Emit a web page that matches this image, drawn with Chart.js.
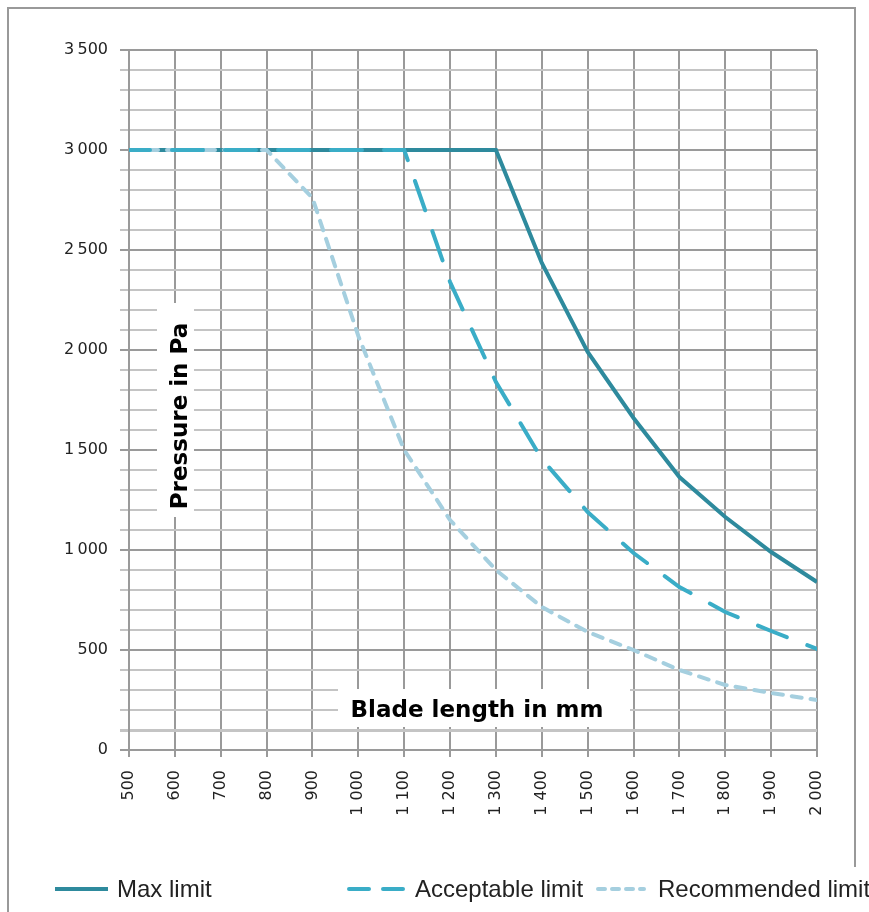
<!DOCTYPE html>
<html>
<head>
<meta charset="utf-8">
<script src="https://cdn.jsdelivr.net/npm/chart.js@4.4.0/dist/chart.umd.min.js"></script>
<style>
  body { margin: 0; background: #fff; }
  canvas { display: block; }
</style>
</head>
<body>
<canvas id="chart" width="869" height="912"></canvas>
<script>
// blade length in mm, one point every 100 mm
const bladeLength = [500, 600, 700, 800, 900, 1000, 1100, 1200, 1300, 1400, 1500, 1600, 1700, 1800, 1900, 2000];
// pressure in Pa
const maxLimit = [3000, 3000, 3000, 3000, 3000, 3000, 3000, 3000, 3000, 2435, 1990, 1660, 1365, 1165, 990, 840];
const acceptableLimit = [3000, 3000, 3000, 3000, 3000, 3000, 3000, 2340, 1840, 1455, 1190, 985, 815, 690, 595, 505];
const recommendedLimit = [3000, 3000, 3000, 3000, 2760, 2070, 1500, 1150, 900, 715, 590, 500, 400, 325, 285, 250];
const seriesNames = ['Max limit', 'Acceptable limit', 'Recommended limit'];
const xTitle = 'Blade length in mm';
const yTitle = 'Pressure in Pa';

function toPoints(values) {
  return bladeLength.map((x, i) => ({ x: x, y: values[i] }));
}

function fmtX(v) {
  return v >= 1000 ? Math.floor(v / 1000) + ' ' + String(v % 1000).padStart(3, '0') : String(v);
}

function fmtY(v) {
  if (v % 500 !== 0) return '';
  return v >= 1000 ? Math.floor(v / 1000) + '\u2009' + String(v % 1000).padStart(3, '0') : String(v);
}

const decorations = {
  id: 'decorations',
  beforeDatasetsDraw(chart) {
    const ctx = chart.ctx;
    ctx.save();
    ctx.fillStyle = '#fff';
    ctx.fillRect(338, 689, 292, 38);
    ctx.fillRect(157, 303, 37, 214);
    ctx.fillStyle = '#000';
    ctx.font = 'bold 23px "DejaVu Sans"';
    ctx.textAlign = 'center';
    ctx.textBaseline = 'alphabetic';
    ctx.fillText(xTitle, 477, 717);
    ctx.translate(187, 416);
    ctx.rotate(-Math.PI / 2);
    ctx.fillText(yTitle, 0, 0);
    ctx.restore();
  },
  afterDraw(chart) {
    const ctx = chart.ctx;
    ctx.save();
    // outer frame
    ctx.strokeStyle = '#999';
    ctx.lineWidth = 2;
    ctx.beginPath();
    ctx.moveTo(8, 912);
    ctx.lineTo(8, 8);
    ctx.lineTo(855, 8);
    ctx.lineTo(855, 867);
    ctx.stroke();

    // legend
    const slots = [
      { x0: 55, x1: 108, tx: 117, dash: [] },
      { x0: 349, x1: 403, tx: 415, dash: [20, 14] },
      { x0: 598, x1: 644, tx: 658, dash: [7, 7] }
    ];
    const ly = 889;
    chart.data.datasets.forEach((ds, i) => {
      const s = slots[i];
      ctx.strokeStyle = ds.borderColor;
      ctx.lineWidth = ds.borderWidth;
      ctx.lineCap = i === 0 ? 'butt' : 'round';
      ctx.setLineDash(s.dash);
      ctx.beginPath();
      ctx.moveTo(s.x0, ly);
      ctx.lineTo(s.x1, ly);
      ctx.stroke();
      ctx.setLineDash([]);
      ctx.fillStyle = '#222';
      ctx.font = '24px "Liberation Sans"';
      ctx.textAlign = 'left';
      ctx.textBaseline = 'alphabetic';
      ctx.fillText(ds.label, s.tx, 897);
    });
    ctx.restore();
  }
};

const ctx = document.getElementById('chart').getContext('2d');
const chart = new Chart(ctx, {
  type: 'line',
  data: {
    datasets: [
      {
        label: seriesNames[0],
        data: toPoints(maxLimit),
        borderColor: '#2e8a9d',
        borderWidth: 4,
        pointRadius: 0,
        tension: 0,
        order: 2
      },
      {
        label: seriesNames[1],
        data: toPoints(acceptableLimit),
        borderColor: '#3aadc7',
        borderWidth: 4,
        borderDash: [31, 22],
        borderDashOffset: 10,
        borderCapStyle: 'round',
        pointRadius: 0,
        tension: 0,
        order: 0
      },
      {
        label: seriesNames[2],
        data: toPoints(recommendedLimit),
        borderColor: '#a5cfdf',
        borderWidth: 4,
        borderDash: [10, 9],
        borderCapStyle: 'round',
        pointRadius: 0,
        tension: 0,
        order: 1
      }
    ]
  },
  options: {
    responsive: false,
    animation: false,
    layout: { padding: { left: 0, right: 52, top: 50, bottom: 0 } },
    plugins: {
      legend: { display: false },
      tooltip: { enabled: false }
    },
    scales: {
      x: {
        type: 'linear',
        min: 500,
        max: 2000,
        afterFit: (scale) => { scale.height = 162; },
        ticks: {
          stepSize: 100,
          autoSkip: false,
          minRotation: 90,
          maxRotation: 90,
          padding: 13,
          color: '#222',
          font: { family: 'DejaVu Sans', size: 16 },
          callback: (v) => fmtX(v)
        },
        grid: { color: '#9a9a9a', lineWidth: 2, tickLength: 7 },
        border: { color: '#9a9a9a', width: 2 }
      },
      y: {
        min: 0,
        max: 3500,
        afterFit: (scale) => { scale.width = 129; },
        ticks: {
          stepSize: 100,
          autoSkip: false,
          padding: 12,
          color: '#222',
          font: { family: 'DejaVu Sans', size: 16 },
          callback: (v) => fmtY(v)
        },
        grid: {
          color: (c) => (c.tick && c.tick.value % 500 === 0 ? '#9a9a9a' : '#c4c4c4'),
          lineWidth: (c) => (c.tick && c.tick.value === 100 ? 3 : 2),
          tickLength: 9
        },
        border: { color: '#9a9a9a', width: 2 }
      }
    }
  },
  plugins: [decorations]
});
</script>
</body>
</html>
